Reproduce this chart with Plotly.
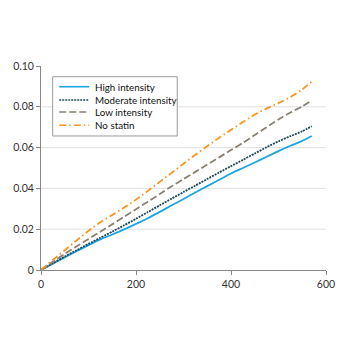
import plotly.graph_objects as go

days = [0, 25, 50, 75, 100, 125, 150, 175, 200, 225, 250, 275, 300, 325, 350, 375, 400, 425, 450, 475, 500, 525, 550, 570]
high = [0, .0031, .0062, .0092, .0122, .0150, .0174, .0199, .0226, .0254, .0285, .0317, .0348, .0380, .0411, .0442, .0473, .0500, .0527, .0555, .0583, .0609, .0633, .0657]
moderate = [0, .0033, .0066, .0097, .0128, .0158, .0188, .0219, .0251, .0284, .0317, .0350, .0382, .0414, .0446, .0478, .0509, .0540, .0571, .0602, .0631, .0656, .0680, .0705]
low = [0, .0040, .0079, .0116, .0152, .0188, .0224, .0261, .0298, .0335, .0372, .0410, .0446, .0481, .0517, .0552, .0588, .0623, .0662, .0700, .0738, .0772, .0802, .0831]
nostatin = [0, .0049, .0097, .0145, .0192, .0234, .0270, .0306, .0345, .0388, .0432, .0476, .0521, .0565, .0607, .0648, .0687, .0725, .0762, .0792, .0818, .0848, .0885, .0925]

series_names = ["High intensity", "Moderate intensity", "Low intensity", "No statin"]
y_ticks = [0, 0.02, 0.04, 0.06, 0.08, 0.10]
y_ticktext = ["0", "0.02", "0.04", "0.06", "0.08", "0.10"]
x_ticks = [0, 200, 400, 600]

styles = [
    dict(color="#1AA7E1", dash="solid", width=1.8),
    dict(color="#1E4A5A", dash="2px,1px", width=1.8),
    dict(color="#8A8172", dash="7px,3px", width=1.8),
    dict(color="#F7941D", dash="7px,3px,1.5px,3px", width=1.8),
]

FONT = "Lato, sans-serif"

fig = go.Figure()
for name, ys, st in zip(series_names, [high, moderate, low, nostatin], styles):
    fig.add_trace(go.Scatter(x=days, y=ys, mode="lines", name=name, line=st,
                             line_shape="spline", line_smoothing=0.6,
                             showlegend=False))

# gridlines
for v in y_ticks[1:-1]:
    fig.add_shape(type="line", xref="paper", x0=0, x1=1, yref="y", y0=v, y1=v,
                  line=dict(color="#E0E0E0", width=1), layer="below")

# custom compact legend (box, samples, labels)
fig.add_shape(type="rect", xref="paper", yref="paper", x0=0.041, x1=0.478,
              y0=0.657, y1=0.9475, line=dict(color="#9A9A9A", width=1),
              fillcolor="white", layer="above")
row_y = [0.8985, 0.8333, 0.7745, 0.7093]
for name, st, ry in zip(series_names, styles, row_y):
    fig.add_shape(type="line", xref="paper", yref="paper", x0=0.064, x1=0.1695,
                  y0=ry, y1=ry, line=dict(color=st["color"], dash=st["dash"], width=1.6),
                  layer="above")
    fig.add_annotation(xref="paper", yref="paper", x=0.183, y=ry, text=name,
                       showarrow=False, xanchor="left", yanchor="middle",
                       font=dict(family=FONT, size=9.8, color="#111111"))

fig.update_layout(
    width=350, height=350,
    margin=dict(l=41, r=24, t=66, b=80),
    paper_bgcolor="white", plot_bgcolor="white",
    font=dict(family=FONT, size=10.5, color="#333333"),
    showlegend=False,
    xaxis=dict(range=[0, 600], tickvals=x_ticks, showgrid=False, zeroline=False,
               showline=True, linecolor="#888888", linewidth=1,
               ticks="outside", ticklen=4, tickcolor="#888888"),
    yaxis=dict(range=[0, 0.10], tickvals=y_ticks, ticktext=y_ticktext, showgrid=False,
               zeroline=False, showline=True, linecolor="#888888", linewidth=1,
               ticks="outside", ticklen=4, tickcolor="#888888"),
)

fig.write_html("out.html")
